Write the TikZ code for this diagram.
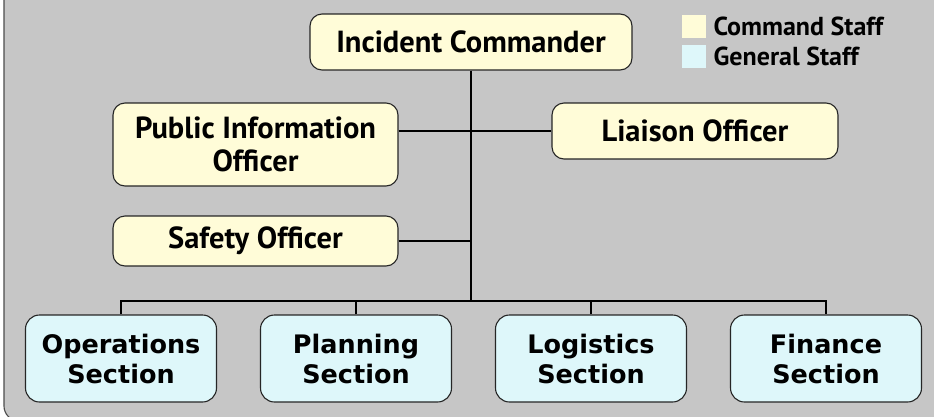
\documentclass[tikz,border=0pt]{standalone}
\usepackage{fontspec}
\setmainfont{PT Sans}
\newfontfamily\secfont{DejaVu Sans}
\usetikzlibrary{positioning}
\definecolor{cmdfill}{HTML}{FFFCD8}
\definecolor{genfill}{HTML}{DEF7FA}
\definecolor{bggray}{HTML}{C6C6C6}

\begin{document}
\begin{tikzpicture}[x=1pt, y=-1pt, node distance={235pt}, line width=1.6pt,
  cmd/.style = {draw=black!85, fill=cmdfill, rounded corners=12pt, line width=1.1pt, align=center, inner sep=0pt, font=\fontsize{30.5}{33}\selectfont\bfseries},
  gen/.style = {draw=black!85, fill=genfill, rounded corners=14pt, line width=1.1pt, align=center, inner sep=0pt, minimum width=191pt, minimum height=87pt, font=\secfont\fontsize{25.5}{30}\selectfont\bfseries},
  key/.style = {inner sep=0pt, minimum width=24pt, minimum height=23pt},
  keytext/.style = {inner sep=0pt, font=\fontsize{26}{28}\selectfont\bfseries}]

  \useasboundingbox (0,0) rectangle (934,416);
  \draw[fill=bggray, draw=black!70, line width=1.1pt, rounded corners=15pt] (4,-40) rectangle (980,421);

  % command staff
  \node[cmd, minimum width=322pt, minimum height=56pt] (IC) at (471,42) {Incident Commander};
  \node[cmd, minimum width=285pt, minimum height=83pt] (PIO) at (255.5,144.5) {Public Information\\Officer};
  \node[cmd, minimum width=286pt, minimum height=56pt] (LO) at (695,131) {Liaison Officer};
  \node[cmd, minimum width=285pt, minimum height=50pt] (SO) at (255.5,241) {Safety Officer};

  % general staff
  \node[gen] (OPS) at (121,358.5) {Operations\\Section};
  \node[gen] (PLN) [right of=OPS] {Planning\\Section};
  \node[gen] (LOG) [right of=PLN] {Logistics\\Section};
  \node[gen] (FIN) [right of=LOG] {Finance\\Section};

  % legend
  \node[key, fill=cmdfill] (cmdkey) at (694,26) {};
  \node[key, fill=genfill] (genkey) at (694,56.5) {};
  \node[keytext, right=6pt of cmdkey] (cmdlbl) {Command Staff};
  \node[keytext, right=6pt of genkey] (genlbl) {General Staff};

  \coordinate (bus) at (471,301);

  \draw (IC) -- (bus);
  \draw (PIO.east |- LO) -- (LO.west);
  \draw (SO.east) -- (SO.east -| bus);

  \draw (OPS.north) |- (bus) -| (FIN.north);
  \draw (PLN.north) -- (PLN.north |- bus);
  \draw (LOG.north) -- (LOG.north |- bus);
\end{tikzpicture}
\end{document}
